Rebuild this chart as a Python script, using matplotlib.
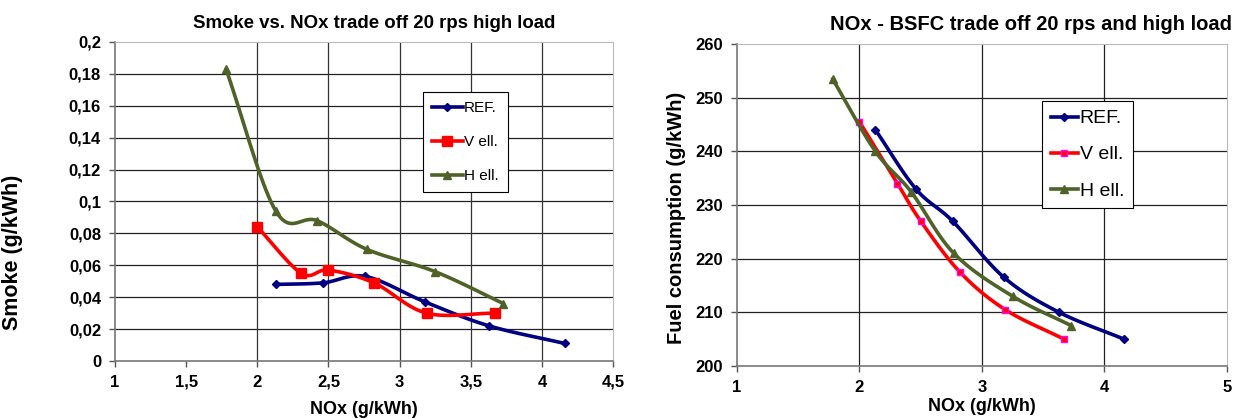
import numpy as np
import matplotlib
matplotlib.use("Agg")
import matplotlib.pyplot as plt
from matplotlib.ticker import FuncFormatter

plt.rcParams['font.family'] = ['Liberation Sans', 'DejaVu Sans']

series_names = ['REF.', 'V ell.', 'H ell.']

# smoke vs NOx
ref_nox = [2.13, 2.46, 2.76, 3.18, 3.63, 4.16]
ref_smoke = [0.048, 0.049, 0.053, 0.037, 0.022, 0.011]
vell_nox = [2.0, 2.31, 2.50, 2.82, 3.19, 3.67]
vell_smoke = [0.084, 0.055, 0.057, 0.049, 0.030, 0.030]
hell_nox = [1.78, 2.13, 2.42, 2.77, 3.25, 3.73]
hell_smoke = [0.183, 0.094, 0.088, 0.070, 0.056, 0.036]

# BSFC vs NOx
ref_bsfc = [244.0, 233.0, 227.0, 216.5, 210.0, 205.0]
vell_bsfc = [245.5, 234.0, 227.0, 217.5, 210.5, 205.0]
hell_bsfc = [253.5, 240.0, 232.5, 221.0, 213.0, 207.5]


def smooth(x, y, n=20):
    # bezier through the points (spreadsheet "smoothed line")
    out = []
    for p in (x, y):
        p = np.asarray(p, float)
        q = np.concatenate([[2 * p[0] - p[1]], p, [2 * p[-1] - p[-2]]])
        t = np.linspace(0, 1, n)
        seg = []
        for i in range(1, len(q) - 2):
            p0, p1, p2, p3 = q[i - 1], q[i], q[i + 1], q[i + 2]
            c1 = p1 + (p2 - p0) / 6
            c2 = p2 - (p3 - p1) / 6
            seg.append((1 - t) ** 3 * p1 + 3 * t * (1 - t) ** 2 * c1
                       + 3 * t ** 2 * (1 - t) * c2 + t ** 3 * p2)
        out.append(np.concatenate(seg))
    return out


colors = ['#000080', '#ff0000', '#4f6228']
markers = ['D', 's', '^']

fig = plt.figure(figsize=(12.38, 4.19), dpi=100)
ax1 = fig.add_axes([0.0929, 0.1384, 0.4023, 0.7614])
ax2 = fig.add_axes([0.5953, 0.1265, 0.3958, 0.7685])

comma = FuncFormatter(lambda v, p: ('%g' % round(v, 3)).replace('.', ','))

# left chart
for xs, ys, c, m, name in zip([ref_nox, vell_nox, hell_nox],
                              [ref_smoke, vell_smoke, hell_smoke],
                              colors, markers, series_names):
    sx, sy = smooth(xs, ys)
    ax1.plot(sx, sy, color=c, lw=2.6, solid_capstyle='round')
    ms = {'D': 4, 's': 6.5, '^': 6}[m]
    ax1.plot(xs, ys, ls='none', marker=m, color=c, ms=ms)
    ax1.plot([], [], color=c, lw=2.6, marker=m, ms=ms, label=name)

ax1.set_xlim(1, 4.5)
ax1.set_ylim(0, 0.2)
ax1.set_xticks(np.arange(1, 4.51, 0.5))
ax1.set_yticks(np.arange(0, 0.201, 0.02))
ax1.xaxis.set_major_formatter(comma)
ax1.yaxis.set_major_formatter(comma)
for v in np.arange(0.02, 0.2, 0.02):
    ax1.axhline(v, color='#222222', lw=0.9, zorder=0)
for v in [2, 2.5, 3, 3.5, 4]:
    ax1.axvline(v, color='#333333', lw=0.9, zorder=0)
ax1.set_title('Smoke vs. NOx trade off 20 rps high load', fontsize=13.4,
              fontweight='bold', pad=10, x=0.52)
ax1.set_xlabel('NOx (g/kWh)', fontsize=13, fontweight='bold', labelpad=8)
ax1.set_ylabel('Smoke (g/kWh)', fontsize=15.5, fontweight='bold')
ax1.yaxis.set_label_coords(-0.185, 0.34)
leg1 = ax1.legend(loc='upper left', bbox_to_anchor=(0.618, 0.843), fontsize=11,
                  handlelength=2.0, handletextpad=0.1, labelspacing=1.3,
                  borderaxespad=0, fancybox=False, framealpha=1,
                  edgecolor='black', borderpad=0.6)
leg1.get_frame().set_linewidth(0.8)

# right chart
for xs, ys, c, m, name in zip([ref_nox, vell_nox, hell_nox],
                              [ref_bsfc, vell_bsfc, hell_bsfc],
                              colors, markers, series_names):
    sx, sy = smooth(xs, ys)
    ax2.plot(sx, sy, color=c, lw=2.6, solid_capstyle='round')
    ms = {'D': 4, 's': 5, '^': 5.5}[m]
    mec = '#ff00ff' if m == 's' else c
    ax2.plot(xs, ys, ls='none', marker=m, color=c, ms=ms, mec=mec, mew=1)
    ax2.plot([], [], color=c, lw=2.6, marker=m, ms=ms, mec=mec, label=name)

ax2.set_xlim(1, 5)
ax2.set_ylim(200, 260)
ax2.set_xticks([1, 2, 3, 4, 5])
ax2.set_yticks(np.arange(200, 261, 10))
for v in [210, 220, 230, 240, 250]:
    ax2.axhline(v, color='#222222', lw=0.9, zorder=0)
for v in [2, 3, 4]:
    ax2.axvline(v, color='#222222', lw=0.9, zorder=0)
ax2.set_title('NOx - BSFC trade off 20 rps and high load', fontsize=14.5,
              fontweight='bold', loc='right', pad=10, x=1.01)
ax2.set_xlabel('NOx (g/kWh)', fontsize=13, fontweight='bold', labelpad=2)
ax2.set_ylabel('Fuel consumption (g/kWh)', fontsize=14.5, fontweight='bold')
ax2.yaxis.set_label_coords(-0.105, 0.46)
leg2 = ax2.legend(loc='upper left', bbox_to_anchor=(0.622, 0.823), fontsize=14,
                  handlelength=1.4, handletextpad=0.1, labelspacing=0.95,
                  borderaxespad=0, fancybox=False, framealpha=1,
                  edgecolor='black', borderpad=0.45)
leg2.get_frame().set_linewidth(0.8)

for ax in (ax1, ax2):
    for s in ('top', 'right'):
        ax.spines[s].set_color('#bbbbbb')
    for s in ('left', 'bottom'):
        ax.spines[s].set_color('#777777')
        ax.spines[s].set_linewidth(1.2)
    ax.tick_params(length=4, width=1, color='#555555', labelsize=12, pad=6)
    for lbl in ax.get_xticklabels() + ax.get_yticklabels():
        lbl.set_fontweight('bold')

fig.savefig('out.png', dpi=100)
